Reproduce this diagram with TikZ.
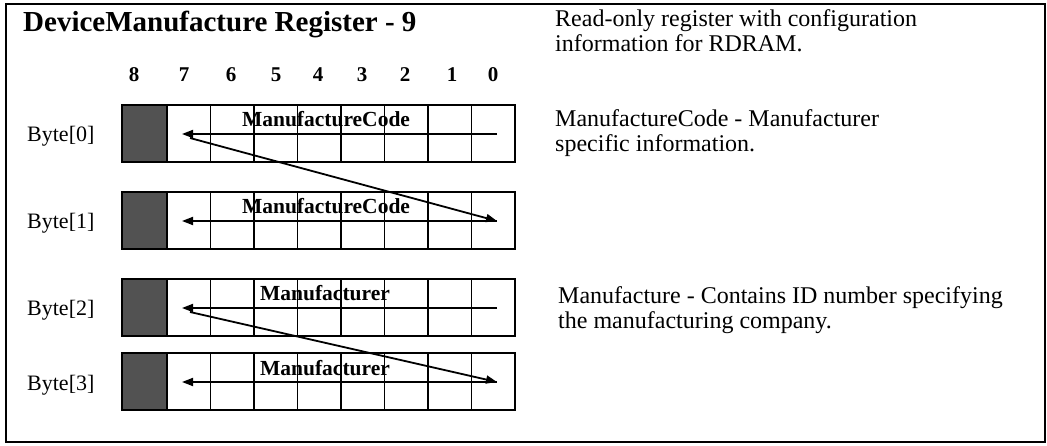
\documentclass[tikz,border=0pt]{standalone}
\usepackage{fontspec}
\setmainfont{Liberation Serif}
\usetikzlibrary{arrows.meta}
\begin{document}
\begin{tikzpicture}[x=1pt,y=-1pt,
  frame/.style={line width=2pt},
  gridline/.style={line width=1.8pt},
  shadecell/.style={fill=black!68},
  arr/.style={line width=1.8pt,-{Triangle[length=11pt,width=8pt]}},
  fieldtext/.style={inner sep=0pt,anchor=base,font=\fontsize{21.5}{24}\selectfont\bfseries},
  numtext/.style={inner sep=0pt,anchor=base,font=\fontsize{21}{24}\selectfont\bfseries},
  bytetext/.style={inner sep=0pt,anchor=base west,font=\fontsize{22}{24}\selectfont},
  desctext/.style={inner sep=0pt,anchor=base west,align=left,font=\fontsize{24}{25}\selectfont}]
\useasboundingbox (0,0) rectangle (1047,446);
\draw[frame] (6,4) rectangle (1045,442);
\node[inner sep=0pt,anchor=base west,font=\fontsize{29}{32}\selectfont\bfseries] (title) at (23,32) {DeviceManufacture Register - 9};
% column numbers
\foreach \n/\x in {8/134,7/184,6/231,5/276,4/318,3/362,2/405,1/452,0/493}
  \node[numtext] (col\n) at (\x,82) {\n};
% register rows
\foreach \r/\t in {0/105,1/192,2/279,3/353}{
  \fill[shadecell] (122,\t) rectangle (167,\t+57);
  \draw[gridline] (122,\t) rectangle (515,\t+57);
  \foreach \x in {167,210.5,254,297.5,341,384.5,428,471.5}
    \draw[gridline] (\x,\t) -- (\x,\t+57);
  \coordinate (r\r R) at (497,\t+29);
  \coordinate (r\r L) at (182,\t+29);
  \coordinate (r\r D) at (190,\t+33);
  \node[bytetext] (byte\r) at (27,\t+37) {Byte[\r]};
}
\node[fieldtext] (f0) at (326,127) {ManufactureCode};
\node[fieldtext] (f1) at (326,214) {ManufactureCode};
\node[fieldtext] (f2) at (325,301) {Manufacturer};
\node[fieldtext] (f3) at (325,375) {Manufacturer};
\foreach \r in {0,1,2,3}
  \draw[arr] (r\r R) -- (r\r L);
\draw[arr] (r0D) -- (r1R);
\draw[arr] (r2D) -- (r3R);
% descriptions
\node[desctext] (d0) at (555,52) {Read-only register with configuration\\information for RDRAM.};
\node[desctext] (d1) at (555,152) {ManufactureCode - Manufacturer\\specific information.};
\node[desctext] (d2) at (558,329) {Manufacture - Contains ID number specifying\\the manufacturing company.};
\end{tikzpicture}
\end{document}
